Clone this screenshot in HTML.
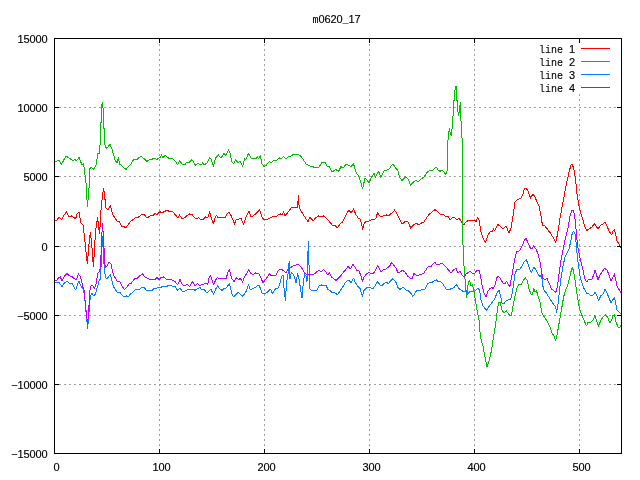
<!DOCTYPE html>
<html><head><meta charset="utf-8"><title>m0620_17</title>
<style>
html,body{margin:0;padding:0;background:#fff;}
body{width:640px;height:480px;overflow:hidden;}
svg{display:block;}
text{fill:#000;stroke:#000;}
svg{will-change:transform;transform:translateZ(0);}
.m{font-family:"Liberation Mono",monospace;font-size:10px;stroke-width:0.1px;}
.n{font-family:"Liberation Sans",sans-serif;font-size:11px;stroke-width:0.15px;}
.d{fill:none;stroke-width:1;stroke-linejoin:round;}
</style></head><body>
<svg width="640" height="480" viewBox="0 0 640 480">
<rect x="0" y="0" width="640" height="480" fill="#ffffff"/>
<g shape-rendering="crispEdges" stroke="#a0a0a0" stroke-width="1" stroke-dasharray="2,3" fill="none">
<line x1="54" y1="107.5" x2="621" y2="107.5"/>
<line x1="54" y1="176.5" x2="621" y2="176.5"/>
<line x1="54" y1="246.5" x2="621" y2="246.5"/>
<line x1="54" y1="315.5" x2="621" y2="315.5"/>
<line x1="54" y1="384.5" x2="621" y2="384.5"/>
<line x1="159.5" y1="454" x2="159.5" y2="38" stroke-dashoffset="2"/>
<line x1="264.5" y1="454" x2="264.5" y2="38" stroke-dashoffset="2"/>
<line x1="369.5" y1="454" x2="369.5" y2="38" stroke-dashoffset="2"/>
<line x1="474.5" y1="454" x2="474.5" y2="38" stroke-dashoffset="2"/>
<line x1="579.5" y1="454" x2="579.5" y2="93" stroke-dashoffset="2"/>
</g>
<polyline class="d" shape-rendering="crispEdges" stroke="#ff0000" points="54,220 56.4,221 59,217 61.6,220 64,215 66.4,212 69,217 71.6,216 74,217.6 75.6,219 77,214 79,212 81,223 83,225 84.4,236 86,252 87.4,264 89,244 90.4,232 92,248 93.4,267 95,240 96.4,224 97.6,218 99,230 99.6,234 101,210 102.4,196 103.6,188 104.6,196 106,208 108,209.6 110.4,205.6 112.4,214 115,218 117.6,222 119,221 122,227 124,226.4 125.6,228 128,225 131,221 134,219 136,217 138,217.6 141,215 144,214.4 147,218 150,216 153,215.6 155,213.6 157,214.4 160,211.6 162,213 164,211.6 167,210.4 170,211.6 173,212 176,215.6 177.6,218 179.6,215 182,219 184.4,218 187,215.6 189.6,214 192,214.4 194,217 196,219 198.4,217.6 201,219.6 203.6,219 205.6,217 207.6,218 209.6,212 211.6,219 213.4,223.6 215,218 216.4,215.6 218.4,218 221,217 223.6,217.6 225.6,217 227,214 229,212 231,215.6 233,220 234.6,224 236.4,219 239,219 241,218 243.4,224.4 245.6,218 247.6,214 249,211 251,217 253,216 255,214.4 257.6,212 259.6,210 261.6,216 263.6,219.6 266,220 268,219 270,218 273,216.4 275.6,217 278,215 280.4,214 282,214.4 283.6,212 285,215.6 287,213.6 289.6,210 292,207 295,207 297.6,207.6 298.4,195 299.2,208 301,211 303.6,215 306,219 308,221.6 310,217 313,221 315.6,218 318.4,216 321,217 323.6,216 326,218 329,221 332,225 335,225.6 337.6,228 340,224 342.4,222 345,217 347,213 349,210 351,213 353.6,209 355.6,214 358,218 360,219 361.6,224 362.6,229.6 364,224 366,221 369,221 371.6,219.6 374,219.6 376,218 377.6,212.4 379.6,215.6 381.6,217 384,215.6 386.4,215 388.4,216 391,213.6 393,212 394.6,210 396.4,213 398.4,217 400.4,221 402.4,224 405,221.6 408,221.6 410.6,228 413.6,225 416,223 419,225 421.6,223 424,222 426.4,218 429,214.4 432,212 435,209.6 438,212 441,215 443,214 446,217 448,216 450,220 452.4,217.6 454,217 457,220 459,218 461,221 463.6,225 466,222 469,220 472,221 475,220 476,222 477.6,217.6 479,220 481,232 483,238 485.6,242.4 488,235 491,231 492,232 493.6,229 494.6,231 497.6,224.4 500,226 503,229 506,226 509,233 511,228 512,222 513.6,212 515,202 517,200 521,198 523,194 524.4,189 526,188 528,191 530.6,198 533,194 535,197 537,202 539,206 541,216 542.4,225 545,226 548,230 551,234 554,239 555.6,242.4 557.6,234 560,218 563,202 566,186 569,172 571,165 572.4,164.4 574,170 575.6,180 577,194 579,206 581,214 583,220 585,227 587,230.4 590,228.4 592,227 594.4,223.6 596,226 598,229 601,225 603,224 605,222.4 607,226 609,231 611.6,235 613,231 614.4,229.6 615.6,234 617,241 619,244 621,248"/>
<polyline class="d" shape-rendering="crispEdges" stroke="#00c000" points="54,161.8 59,160.6 61.4,164.4 66,156 70,158.6 73,161 75,159.4 76.4,161 79,157.4 82,165 83.6,164 86,183 87.4,207 89,188 89.6,169 91,167 94,169.4 96,165 98,153 99.6,153 100.8,129 101.4,110 102.2,102 103.2,110 103.5,127 104.2,129 105,145 106.4,148.6 110,144.6 112,149 115,160 117,163 118.4,157.4 119.6,164 123,167 126,169.4 131,164 134,159 137,159.4 141,156 147,161.4 150,159 152,159.4 154,158 157,159.4 160,157.4 161.6,155 163,158 165,155 169,158.6 172,158 176,162 177.6,165 179.6,160.6 182,164 185,164.6 187,162 189,162.6 191.6,160 193,161 195.6,165.4 198,163.4 201,165 202.6,163 204,165 207,163 209.6,157.4 211,159 213.4,166.6 215.6,158 218.4,155 221,158 224,153.4 225.6,155.4 228.6,150 230,153 231.6,161 233.4,164 235.4,160 238,162.6 240,161 242.6,166.6 244.4,159 245.6,160 248.4,153.4 251,158 256,158.6 257.6,157 258.6,158.6 260.4,156 262,164 264,166.6 266,165.4 269.4,161.4 271.4,163 273.6,160 277,160 279.4,158 280.6,159 283.6,156.6 286,159 289,156 290,157 293,154.6 297,154 300,155.4 303,159 306,164 310,166 313,166.6 314.4,168 319,167.4 321.6,162.6 325,162.6 327,166 329,166.6 332.4,172 335.6,169.4 338.6,171.4 341,166.6 343,168 346,164.4 349,165.4 351,167 353.4,163.4 356,172 359,177 361,183 362.6,189 365,178 369,182.6 371.6,177 374,173.4 375.6,177 378.6,171.4 381,177.4 384.4,170.6 389,169.4 391,166 393,164 395,167 398,171 400,178 402,180.6 405.4,177 408,179 410.6,185 414,181.4 416.4,180.6 418.6,181.6 421.6,178.6 424,177 427,172.6 430,170 433,170 436.25,167 438,170 440,171.25 442,170 445.75,174.25 447,171.25 447.5,157.5 448.1,137.4 449.4,128 450.25,133 451.25,136 452.5,124.25 453.4,110.5 454.4,94.25 455.6,86 456.25,86 456.5,100 457.5,100.5 458.1,114.25 458.75,115.5 459.6,108 460.4,102.4 460.6,120.5 461.5,121.75 462,138 462.3,190 462.5,236 463.2,248 464,266 465.6,286 466.4,298 467.4,290 468.4,281.6 469.6,280.4 471,286 472.4,285 473.6,289 475,298 477,310 479,320 480.4,337 483,346 485,357 487,367 489,361 491.6,350 493,340 495,328 496.4,318 497.6,308 499,302 500.4,303 502,310 504,313 506.4,311 508,313 510,316 511.6,315 513,306 515,296 517,288 519,284 521,285 523,281 525.4,277.6 527.4,281 529,289 531,294 532.4,295 533.6,288.4 535,291.6 536.4,290.4 538,296 540,302 541.6,312 543.6,316 547,321 550,327 552,333 554,336 555.6,341 557.6,332 559.6,320 561.6,309 563.6,297 565.6,290 567.6,286 570,276 571.6,269 572.6,267.6 574,274 575.6,284 577,294 579,306 581,313 583,318 585,322.4 586.4,326 588,322.4 591,322 593,320 595,315.6 596.6,321 598.6,326 601,320 603,317 605.6,315 607.6,317 609.6,323 611.6,320 613,315.6 614.6,315 616,322 618,327 619.6,328 621,325"/>
<polyline class="d" shape-rendering="crispEdges" stroke="#0080ff" points="54,282 57,283 59,282.4 62,286.4 64.4,283 67,281 70,284 72.4,283.6 75.6,290 77.6,284 79,281.6 81,286 83,289 84.4,294 85.6,308 86.6,318 87.6,328.4 89,312 90.4,296 92,293 93.6,296 95.6,294 97,288.4 99,281 100.4,279 101.3,262 102.5,237 103.4,248 104.1,266 105.4,277 107,279 109,276 110.6,275 112,281 113.6,287 115.6,290 117.6,293 119.6,292 122,295 124,297 126.4,296 128,297 130.4,294 133,292 136,289 139,290 142,287 144.4,287.6 147,291 150,290 152,291 154,288.4 156,289 158,287 160,288 163,286 166,286.4 169,285.6 172,286 175,286.4 177.6,290.4 180,288 182,291 185,291 187,290 190,289.6 193,289 195,290.4 197.6,288.4 200,287.6 202,290 204.4,289.6 207,293 209.6,290.4 211,289.6 213.6,294.4 216,288.4 217.6,286 220,289 222,290.4 224.4,288.4 226.4,288 228,285.6 229.4,283.6 230.6,288 232,294 233.6,297 235.6,295 238,292.4 240,294 242.4,296.4 244.4,294 246.4,291 248.6,284.4 250.4,290 252.4,289 255,287.6 257,286 259,285 260.6,289 262,293 264.4,294 267,292.4 269.4,290 271,289.6 272.4,293.6 274.4,290.4 276,288 278,288.4 280,283 281.4,277 283,275 284,288 285.4,301 286.6,282 288,274 289.2,261 290,279 291.4,272 293,274 294.6,277 296,283 297.6,274 299,279 300.4,288 302,298 303.4,282 304.6,275 306,276 307,282 307.6,262 308.4,241 309.2,272 310,289 312.4,291 315,290 317,290.4 319,286 321.6,285 324,286 326,285.6 328,289.6 330,290.4 332.4,293 334.4,292.4 337.6,295 340,291 342,288.4 344.4,284 347,281 349,280.4 351,282.4 353.6,278.4 355.6,283 358,286.4 360,288.4 361.4,293 362.6,296 364,290.4 366.4,288 369,287 371,288 373,288.4 375,286 377.6,281.6 379.6,284.4 381.4,286 383.6,284 386,282 388.4,283.6 390.4,281 392.4,279 394.4,280.4 396.4,283 398,287.6 400,289.6 403,287 405.6,290 408.4,291 410.6,293 413,296.4 415,293 417,290.4 419.6,291 422,289.6 425,289 427.6,284 429.6,282.4 432,282.4 434,281 436.4,279.6 438,281.6 440.4,281 443,284 446,289 449,289.6 452,288.4 454.4,287 456.4,284.4 458.6,288.4 461,290 463.6,291.6 466,290.4 467.6,294 470,291.6 473,292 475,291 478,288.4 479.6,290 481,300 483,306 486.4,310.4 489,306.4 491.6,303 494.4,299.6 497,293 499,290 500.4,295 502,303 503.6,304 505.6,301 507.6,300.4 509,299 510.4,300 512,294 513.6,284 515,274 517,269 519,270 521.6,267 524,262 526.4,260 528,264 530,270 531.4,272.4 534,267 536,270 538,274 540,277 541.6,274 542.6,285 544,290 547,294 550,299 553,303.6 555.6,307 556.6,312.4 558,304 559.6,290 561,278 563,266 565,257 566.4,254 569,249 571,240 572.4,232.4 574,231.6 575.6,236 576.4,248 578,262 580,276 582,283 584,288.4 586.4,293 589,294 591.4,296 593.4,295 595,292 597,296 598.6,300.4 601,295.6 603,294 605,289.6 607,293 609,298 611,303 612.6,300 614.4,297.6 615.6,303 617,310 619,312 621,313.6"/>
<polyline class="d" shape-rendering="crispEdges" stroke="#c000ff" points="54,279 56.4,281 58.4,278 60.4,277 62,281 64.4,276 67,273.6 69.6,276 72.4,277 74.6,279 76.4,279.6 78.4,273.6 80.4,277 82,283 84,290 85.4,304 86.6,316 87.6,324 88.6,312 90,290 91.4,285 93,286 94.6,288.4 96,284 98,273 99.6,271 100.6,266 101.2,250 102.4,223 103.4,236 104.2,252 105.2,268 107,266 109,262 111,264 112.4,271 114,276 116,279 117.6,282 119.6,281.6 122,286 124.4,289.6 127,287 129,284 131,283.6 133,281 135,278 137.6,278 140,275.6 142.6,274 145,277 148,278.4 151,280 153,279 155,279.6 157,277.6 159,279.6 161,277.6 163.6,277 166,279 169,279.6 172,280 175,281.6 177.6,285 180,279.6 182,284 184.4,286 187,284 189.6,287 192.4,281.6 195,285.6 197.6,283.6 200,286 202,284 204.4,284 206,283 207.6,285 209,278 210.4,275 212,280 213.6,285 215.6,280 217.6,277.6 220,279 223,278.4 226,279 228,272 229.4,269.6 230.6,275 232,279 234,281.6 236.4,278 238.6,279.6 240.4,278.4 242.6,282.4 244.4,277 246.4,274 248.6,269.6 250.4,273 253,274.4 255.6,273 259,273.6 260.6,277 263,283 264.4,281 267,277.6 269.4,274 271.6,276 274,275 276,275 278,271 280,269 282,269.6 284,271 285.6,273 287.6,270 290,268 293,266 296,265 298.4,264.4 301,267 303,270 305,273.6 307.6,274.4 310,275 313,274.4 315.6,273 318.4,270.4 321,271.6 323.6,269.6 325.6,271.6 327.6,275 329.6,273 331.6,277 333.6,278.4 336,280.4 338.4,278 340.4,276.4 343,273 345.6,269.6 348,266.4 350.6,269 353,264.4 355,267 357,270.4 359,271 361,276 362.6,281.6 364,277 366.4,274 369,272 371,274 373.6,273 375.6,270 377.6,265.6 379.6,269 381,271.6 383.6,269.6 386,269 388.4,267 390,265.6 391.6,262.4 393.6,265 396,268 398,273 400,272 402.4,270.4 405,272 407.6,276 410,278 412,279 414,273.6 416,275 419,275 421.6,274.4 424,273 426.4,269 428.4,266.4 430.6,267 433,264 435,262.4 436.4,264.4 438,265 442,263 445,266 447.6,269 451,273 453.6,270 456,268.5 457.9,273 459.75,271.25 462.25,275 464.1,277 466,273.75 468.5,272.5 470.4,271.25 472.25,273.1 474.75,273.1 476.6,270.6 479.1,270.6 480.4,275 482.25,286.25 484.1,293.75 486.25,296.9 487.9,291.25 489.75,288.75 491.6,287.5 493.5,288.75 495.4,283.75 496.6,278.1 498.25,276.25 500.4,278.75 502.9,283.1 504.75,283.75 506.6,281.25 508.5,285 509.75,286.9 511,280 512.9,270 514.75,258.75 516.6,251.9 519.75,250.6 522,246 524.4,240.4 526,238.4 527.6,241.6 529.6,247 531.6,249 533.6,246 536,249 538,254 540,262 541.6,272 543,278 545,279.6 547,278.4 549,283 551.6,289 554,291 556,292.4 557.6,286 559,274 561,260 563,250 565,240 566,236 568,228 570,216 571.6,211 573,210.4 574.4,214 575.6,224 576.6,236 577.6,246 579.6,256 581.6,264 583.6,273 585,279 586.6,282 589,279 592,279 593.6,275 595,270.4 596.6,275 598,280 600,275 602,272 604.4,268.4 607,270 609,275 611,281 612.6,278 614.4,274 615.6,279 617,286 619,289.6 621,293"/>
<g shape-rendering="crispEdges" stroke-width="1">
<line x1="581" y1="48.5" x2="610" y2="48.5" stroke="#ff0000"/>
<line x1="581" y1="61.5" x2="610" y2="61.5" stroke="#00c000"/>
<line x1="581" y1="74.5" x2="610" y2="74.5" stroke="#0080ff"/>
<line x1="581" y1="87.5" x2="610" y2="87.5" stroke="#c000ff"/>
</g>
<text class="m" x="542" y="52.5" text-anchor="middle">l</text><text class="m" x="548" y="52.5" text-anchor="middle">i</text><text class="m" x="554" y="52.5" text-anchor="middle">n</text><text class="m" x="560" y="52.5" text-anchor="middle">e</text><text class="n" x="572" y="52.5" text-anchor="middle">1</text>
<text class="m" x="542" y="65.5" text-anchor="middle">l</text><text class="m" x="548" y="65.5" text-anchor="middle">i</text><text class="m" x="554" y="65.5" text-anchor="middle">n</text><text class="m" x="560" y="65.5" text-anchor="middle">e</text><text class="n" x="572" y="65.5" text-anchor="middle">2</text>
<text class="m" x="542" y="78.5" text-anchor="middle">l</text><text class="m" x="548" y="78.5" text-anchor="middle">i</text><text class="m" x="554" y="78.5" text-anchor="middle">n</text><text class="m" x="560" y="78.5" text-anchor="middle">e</text><text class="n" x="572" y="78.5" text-anchor="middle">3</text>
<text class="m" x="542" y="91.5" text-anchor="middle">l</text><text class="m" x="548" y="91.5" text-anchor="middle">i</text><text class="m" x="554" y="91.5" text-anchor="middle">n</text><text class="m" x="560" y="91.5" text-anchor="middle">e</text><text class="n" x="572" y="91.5" text-anchor="middle">4</text>
<g shape-rendering="crispEdges" stroke="#000" stroke-width="1" fill="none">
<rect x="54.5" y="38.5" width="567.0" height="415.0"/>
<line x1="159.5" y1="453" x2="159.5" y2="449"/><line x1="159.5" y1="38" x2="159.5" y2="43"/>
<line x1="264.5" y1="453" x2="264.5" y2="449"/><line x1="264.5" y1="38" x2="264.5" y2="43"/>
<line x1="369.5" y1="453" x2="369.5" y2="449"/><line x1="369.5" y1="38" x2="369.5" y2="43"/>
<line x1="474.5" y1="453" x2="474.5" y2="449"/><line x1="474.5" y1="38" x2="474.5" y2="43"/>
<line x1="579.5" y1="453" x2="579.5" y2="449"/><line x1="579.5" y1="38" x2="579.5" y2="43"/>
<line x1="54" y1="107.5" x2="59" y2="107.5"/><line x1="622" y1="107.5" x2="617" y2="107.5"/>
<line x1="54" y1="176.5" x2="59" y2="176.5"/><line x1="622" y1="176.5" x2="617" y2="176.5"/>
<line x1="54" y1="246.5" x2="59" y2="246.5"/><line x1="622" y1="246.5" x2="617" y2="246.5"/>
<line x1="54" y1="315.5" x2="59" y2="315.5"/><line x1="622" y1="315.5" x2="617" y2="315.5"/>
<line x1="54" y1="384.5" x2="59" y2="384.5"/><line x1="622" y1="384.5" x2="617" y2="384.5"/>
</g>
<text class="n" x="20.5" y="43" text-anchor="middle">1</text><text class="n" x="26.5" y="43" text-anchor="middle">5</text><text class="n" x="32.5" y="43" text-anchor="middle">0</text><text class="n" x="38.5" y="43" text-anchor="middle">0</text><text class="n" x="44.5" y="43" text-anchor="middle">0</text>
<text class="n" x="20.5" y="112" text-anchor="middle">1</text><text class="n" x="26.5" y="112" text-anchor="middle">0</text><text class="n" x="32.5" y="112" text-anchor="middle">0</text><text class="n" x="38.5" y="112" text-anchor="middle">0</text><text class="n" x="44.5" y="112" text-anchor="middle">0</text>
<text class="n" x="26.5" y="181" text-anchor="middle">5</text><text class="n" x="32.5" y="181" text-anchor="middle">0</text><text class="n" x="38.5" y="181" text-anchor="middle">0</text><text class="n" x="44.5" y="181" text-anchor="middle">0</text>
<text class="n" x="44.5" y="251" text-anchor="middle">0</text>
<text class="n" x="20.5" y="320" text-anchor="middle">−</text><text class="n" x="26.5" y="320" text-anchor="middle">5</text><text class="n" x="32.5" y="320" text-anchor="middle">0</text><text class="n" x="38.5" y="320" text-anchor="middle">0</text><text class="n" x="44.5" y="320" text-anchor="middle">0</text>
<text class="n" x="14.5" y="389" text-anchor="middle">−</text><text class="n" x="20.5" y="389" text-anchor="middle">1</text><text class="n" x="26.5" y="389" text-anchor="middle">0</text><text class="n" x="32.5" y="389" text-anchor="middle">0</text><text class="n" x="38.5" y="389" text-anchor="middle">0</text><text class="n" x="44.5" y="389" text-anchor="middle">0</text>
<text class="n" x="14.5" y="458" text-anchor="middle">−</text><text class="n" x="20.5" y="458" text-anchor="middle">1</text><text class="n" x="26.5" y="458" text-anchor="middle">5</text><text class="n" x="32.5" y="458" text-anchor="middle">0</text><text class="n" x="38.5" y="458" text-anchor="middle">0</text><text class="n" x="44.5" y="458" text-anchor="middle">0</text>
<text class="n" x="56.5" y="471" text-anchor="middle">0</text>
<text class="n" x="155.5" y="471" text-anchor="middle">1</text><text class="n" x="161.5" y="471" text-anchor="middle">0</text><text class="n" x="167.5" y="471" text-anchor="middle">0</text>
<text class="n" x="260.5" y="471" text-anchor="middle">2</text><text class="n" x="266.5" y="471" text-anchor="middle">0</text><text class="n" x="272.5" y="471" text-anchor="middle">0</text>
<text class="n" x="365.5" y="471" text-anchor="middle">3</text><text class="n" x="371.5" y="471" text-anchor="middle">0</text><text class="n" x="377.5" y="471" text-anchor="middle">0</text>
<text class="n" x="470.5" y="471" text-anchor="middle">4</text><text class="n" x="476.5" y="471" text-anchor="middle">0</text><text class="n" x="482.5" y="471" text-anchor="middle">0</text>
<text class="n" x="575.5" y="471" text-anchor="middle">5</text><text class="n" x="581.5" y="471" text-anchor="middle">0</text><text class="n" x="587.5" y="471" text-anchor="middle">0</text>
<text class="m" x="315.5" y="23" text-anchor="middle">m</text><text class="n" x="321.5" y="23" text-anchor="middle">0</text><text class="n" x="327.5" y="23" text-anchor="middle">6</text><text class="n" x="333.5" y="23" text-anchor="middle">2</text><text class="n" x="339.5" y="23" text-anchor="middle">0</text><text class="m" x="345.5" y="23" text-anchor="middle">_</text><text class="n" x="351.5" y="23" text-anchor="middle">1</text><text class="n" x="357.5" y="23" text-anchor="middle">7</text>
</svg></body></html>
